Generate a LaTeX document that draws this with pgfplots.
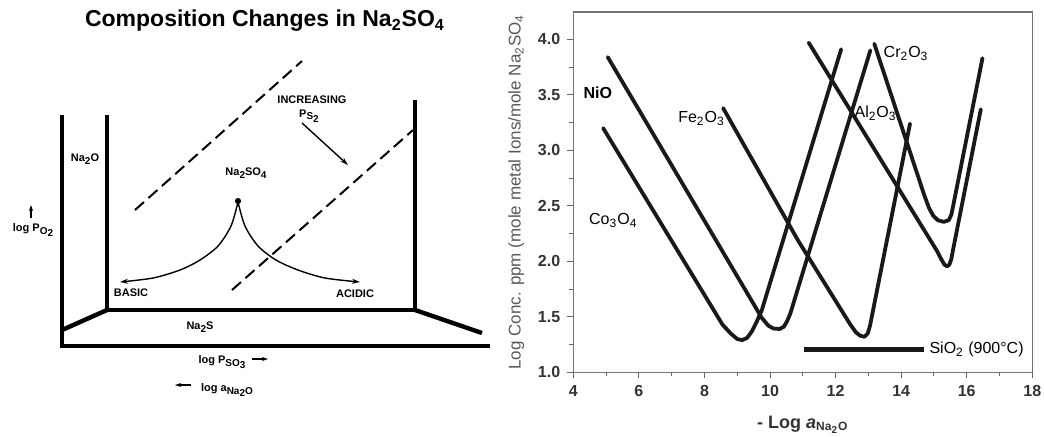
\documentclass[border=0pt]{standalone}
\usepackage{pgfplots}
\pgfplotsset{compat=1.18}
\usepackage{fontspec}
\setmainfont{Liberation Sans}
\usetikzlibrary{arrows.meta}
\newcommand\sub[1]{\raisebox{-0.4ex}{\fontsize{5}{5}\selectfont #1}}
\begin{document}
\begin{tikzpicture}
\useasboundingbox (0,0) rectangle (522pt,218pt);
% ---------------- left schematic (pixel coordinates) ----------------
\begin{axis}[at={(0,0)},anchor=south west,scale only axis,width=522pt,height=218pt,
  xmin=0,xmax=1044,ymin=0,ymax=436,y dir=reverse,hide axis,clip=false]
\node[font=\bfseries\fontsize{11.5}{13}\selectfont] at (axis cs:265,21) {Composition Changes in Na\textsubscript{2}SO\textsubscript{4}};
% frame
\addplot[black,line width=2.2pt,line join=miter,no markers] coordinates {(62,115) (62,346) (490,346)};
\addplot[black,line width=2.2pt,line join=miter,no markers] coordinates {(107,115) (107,310) (415,310) (415,100)};
\addplot[black,line width=2.2pt,no markers] coordinates {(107,310) (62,330)};
\addplot[black,line width=2.2pt,no markers] coordinates {(415,310) (482,333)};
% dashed lines
\addplot[black,line width=1pt,dash pattern=on 6pt off 3pt,no markers] coordinates {(135,210) (302,61)};
\addplot[black,line width=1pt,dash pattern=on 6pt off 3pt,no markers] coordinates {(232,290) (413,130)};
% curves
\addplot[black,line width=0.7pt,smooth,no markers,-{Stealth[length=4pt,width=2.5pt]}] coordinates {(238,202) (231,226) (218,246) (200,260) (180,270) (153,278) (120,282)};
\addplot[black,line width=0.7pt,smooth,no markers,-{Stealth[length=4pt,width=2.5pt]}] coordinates {(238,202) (245,226) (258,246) (276,260) (298,270) (325,278) (360,282)};
\addplot[black,only marks,mark=*,mark size=1.3pt] coordinates {(238,201)};
% arrows
\addplot[black,line width=0.7pt,no markers,-{Stealth[length=4pt,width=2.5pt]}] coordinates {(302,123) (348,165)};
\addplot[black,line width=0.6pt,no markers,-{Stealth[length=3pt,width=2pt]}] coordinates {(31,218) (31,205)};
\addplot[black,line width=0.6pt,no markers,-{Stealth[length=3pt,width=2pt]}] coordinates {(252,359) (268,359)};
\addplot[black,line width=0.6pt,no markers,-{Stealth[length=3pt,width=2pt]}] coordinates {(191,385) (175,385)};
% labels
\begin{scope}[every node/.style={font=\bfseries\fontsize{5.5}{6}\selectfont}]
\node at (axis cs:85,159) {Na\sub{2}O};
\node at (axis cs:246,173) {Na\sub{2}SO\sub{4}};
\node at (axis cs:312,100) {INCREASING};
\node at (axis cs:309,116) {P\sub{S\sub{2}}};
\node at (axis cs:131,293) {BASIC};
\node at (axis cs:355,294) {ACIDIC};
\node at (axis cs:200,327) {Na\sub{2}S};
\node at (axis cs:33,230) {log P\sub{O\sub{2}}};
\node at (axis cs:222,362) {log P\sub{SO\sub{3}}};
\node at (axis cs:227,390) {log a\sub{Na\sub{2}O}};
\end{scope}
\end{axis}
% ---------------- right chart ----------------
\begin{axis}[at={(286.65pt,31.85pt)},anchor=south west,scale only axis,
  width=229.5pt,height=180.15pt,
  xmin=4,xmax=18,ymin=1,ymax=4.246,
  xtick={4,6,...,18},minor xtick={5,7,...,17},
  ytick={1,1.5,2,2.5,3,3.5,4},minor ytick={1.25,1.75,2.25,2.75,3.25,3.75},
  tick align=outside,xtick pos=bottom,ytick pos=left,
  major tick length=3pt,minor tick length=2pt,
  axis line style={black!55,line width=0.6pt},
  every tick/.style={black!60,line width=0.5pt},
  ticklabel style={font=\bfseries\fontsize{8}{9}\selectfont,text=black!80},
  /pgf/number format/assume math mode=true,
  yticklabel style={/pgf/number format/.cd,fixed,fixed zerofill,precision=1},
  xlabel={- Log \textit{a}\textsubscript{Na\textsubscript{2}O}},
  xlabel style={font=\bfseries\fontsize{9}{10}\selectfont,text=black!80,yshift=-3pt},
  ylabel={Log Conc. ppm (mole metal Ions/mole Na\textsubscript{2}SO\textsubscript{4}},
  ylabel style={font=\fontsize{8.5}{10}\selectfont,text=black!65},
  clip=false,
  curve/.style={black!90,line width=1.9pt,line join=round,line cap=round,no markers}]
% Co3O4
\addplot[curve] coordinates {(4.91,3.20) (8.55,1.43) (8.8,1.35) (9.0,1.30) (9.15,1.29) (9.3,1.31) (9.45,1.37) (9.6,1.46) (9.75,1.56) (12.17,3.91)};
% NiO
\addplot[curve] coordinates {(5.05,3.84) (9.75,1.49) (9.95,1.42) (10.1,1.395) (10.29,1.39) (10.42,1.41) (10.52,1.46) (10.62,1.53) (13.06,3.90)};
% Fe2O3
\addplot[curve] coordinates {(8.57,3.38) (10.85,2.19) (12.45,1.43) (12.62,1.36) (12.75,1.33) (12.88,1.32) (12.98,1.35) (13.05,1.42) (14.27,3.24)};
% Al2O3
\addplot[curve] coordinates {(11.18,3.97) (15.1,2.09) (15.22,2.02) (15.32,1.97) (15.4,1.955) (15.47,1.97) (15.53,2.02) (15.58,2.1) (16.43,3.37)};
% Cr2O3
\addplot[curve] coordinates {(13.18,3.96) (14.7,2.6) (14.85,2.48) (14.98,2.41) (15.12,2.37) (15.3,2.355) (15.45,2.37) (15.53,2.42) (15.6,2.52) (16.48,3.83)};
% SiO2 bar
\addplot[black!90,line width=2.6pt,no markers] coordinates {(11.05,1.207) (14.70,1.207)};
\node[font=\bfseries\fontsize{8}{9}\selectfont] at (axis cs:4.75,3.52) {NiO};
\node[font=\fontsize{8}{9}\selectfont] at (axis cs:7.91,3.29) {Fe\textsubscript{2}O\textsubscript{3}};
\node[font=\fontsize{8}{9}\selectfont] at (axis cs:5.22,2.37) {Co\textsubscript{3}O\textsubscript{4}};
\node[font=\fontsize{8}{9}\selectfont] at (axis cs:13.22,3.33) {Al\textsubscript{2}O\textsubscript{3}};
\node[font=\fontsize{8}{9}\selectfont] at (axis cs:14.15,3.87) {Cr\textsubscript{2}O\textsubscript{3}};
\node[font=\fontsize{8}{9}\selectfont] at (axis cs:16.3,1.21) {SiO\textsubscript{2} (900°C)};
\end{axis}
\end{tikzpicture}
\end{document}
